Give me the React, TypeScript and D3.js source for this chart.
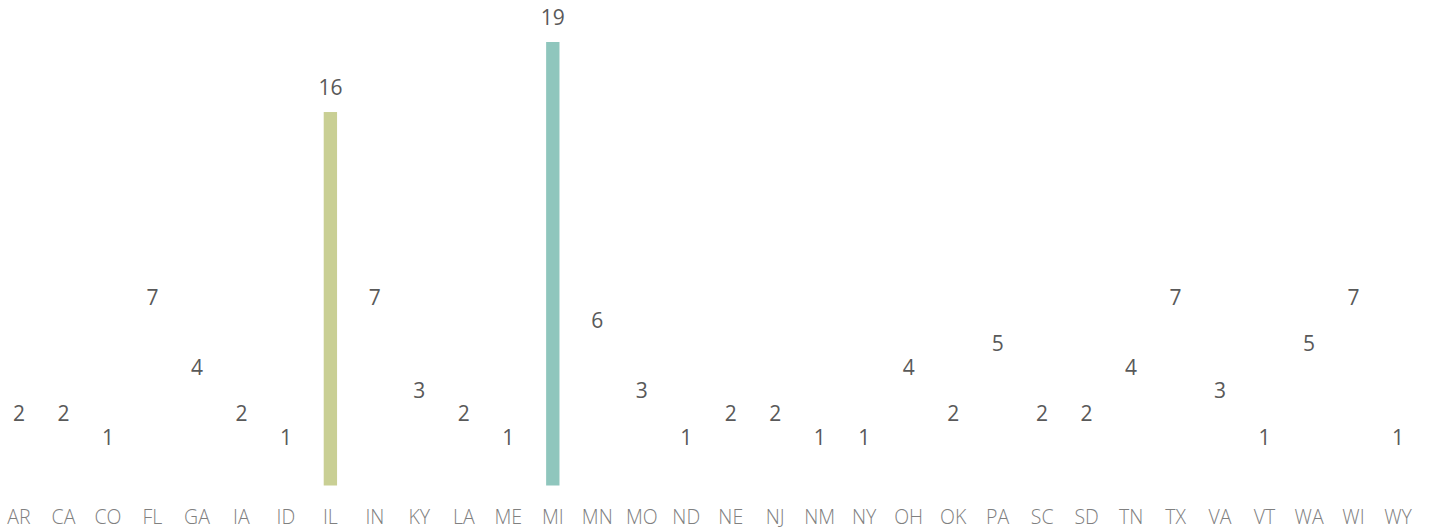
import { useEffect, useRef } from "react";
import * as d3 from "d3";

const states = [
  "AR", "CA", "CO", "FL", "GA", "IA", "ID", "IL", "IN", "KY", "LA", "ME", "MI", "MN", "MO", "ND",
  "NE", "NJ", "NM", "NY", "OH", "OK", "PA", "SC", "SD", "TN", "TX", "VA", "VT", "WA", "WI", "WY",
];
const counts = [
  2, 2, 1, 7, 4, 2, 1, 16, 7, 3, 2, 1, 19, 6, 3, 1,
  2, 2, 1, 1, 4, 2, 5, 2, 2, 4, 7, 3, 1, 5, 7, 1,
];
// only two bars are actually coloured, the rest are white
const highlight: Record<string, string> = {
  IL: "#c9cf94",
  MI: "#8fc6bd",
};

const width = 1433;
const height = 530;

export default function App() {
  const ref = useRef<SVGSVGElement>(null);

  useEffect(() => {
    if (!ref.current) return;
    const svg = d3.select(ref.current);
    svg.selectAll("*").remove();

    const step = (1398 - 19) / (states.length - 1);
    const x = d3
      .scaleBand<string>()
      .domain(states)
      .range([19 - step / 2, 1398 + step / 2])
      .paddingInner(0.7)
      .paddingOuter(0.35);

    const y = d3.scaleLinear().domain([0, 19]).range([485.5, 42]);

    const data = states.map((s, i) => ({ state: s, value: counts[i] }));

    svg
      .selectAll("rect.bar")
      .data(data)
      .join("rect")
      .attr("class", "bar")
      .attr("x", (d) => x(d.state)!)
      .attr("y", (d) => y(d.value))
      .attr("width", x.bandwidth())
      .attr("height", (d) => y(0) - y(d.value))
      .attr("fill", (d) => highlight[d.state] ?? "#ffffff");

    svg
      .selectAll("text.value")
      .data(data)
      .join("text")
      .attr("class", "value")
      .attr("x", (d) => x(d.state)! + x.bandwidth() / 2)
      .attr("y", (d) => y(d.value) - 17.5)
      .attr("text-anchor", "middle")
      .attr("font-family", "'Open Sans', sans-serif")
      .attr("font-size", 21)
      .attr("fill", "#595959")
      .text((d) => d.value);

    const axis = d3.axisBottom(x).tickSize(0).tickPadding(0);
    const g = svg
      .append("g")
      .attr("transform", `translate(0,${y(0)})`)
      .call(axis);
    g.select(".domain").remove();
    g.selectAll("text")
      .attr("dy", null)
      .attr("y", 38.5)
      .attr("font-family", "'Open Sans', sans-serif")
      .attr("font-size", 19.5)
      .attr("font-weight", 300)
      .attr("fill", "#808080");
  }, []);

  return (
    <svg
      ref={ref}
      width={width}
      height={height}
      style={{ position: "absolute", left: 0, top: 0, background: "#fff" }}
    />
  );
}
